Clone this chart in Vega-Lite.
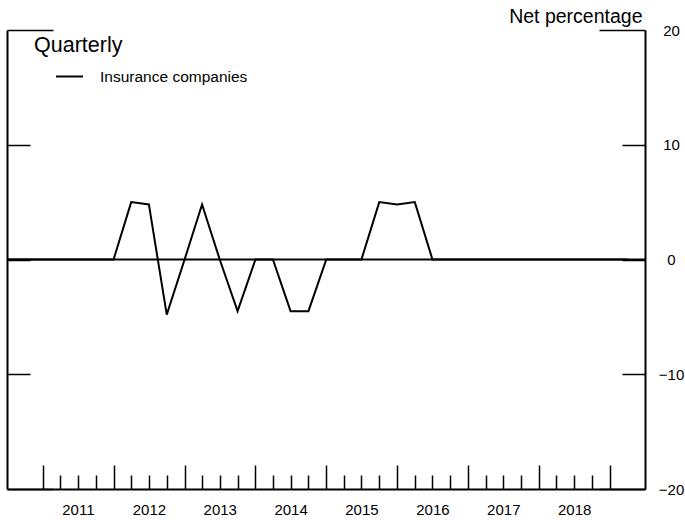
{
  "$schema": "https://vega.github.io/schema/vega-lite/v6.json",
  "width": 638,
  "height": 459,
  "autosize": {"type": "none"},
  "padding": {"left": 7, "top": 30, "right": 40, "bottom": 31},
  "config": {
    "view": {"stroke": null},
    "font": "Liberation Sans",
    "axis": {"grid": false, "domainColor": "black", "tickColor": "black", "labelColor": "black", "titleColor": "black"},
    "legend": {"labelColor": "black", "titleColor": "black"}
  },
  "layer": [
    {
      "data": {"values": [{}]},
      "mark": {"type": "rule", "stroke": "black", "strokeWidth": 2},
      "encoding": {
        "y": {
          "datum": 0,
          "type": "quantitative",
          "scale": {"domain": [-20, 20], "nice": false, "zero": false},
          "axis": {
            "orient": "left",
            "title": null,
            "labels": false,
            "values": [-20, -10, 0, 10, 20],
            "tickSize": {"condition": {"test": "abs(datum.value) == 20", "value": -46}, "value": -23},
            "tickWidth": 1.5,
            "domainWidth": 2
          }
        }
      }
    },
    {
      "data": {
        "values": [
          {"date": "2010-07-01", "series": "Insurance companies", "value": 0},
          {"date": "2010-10-01", "series": "Insurance companies", "value": 0},
          {"date": "2011-01-01", "series": "Insurance companies", "value": 0},
          {"date": "2011-04-01", "series": "Insurance companies", "value": 0},
          {"date": "2011-07-01", "series": "Insurance companies", "value": 0},
          {"date": "2011-10-01", "series": "Insurance companies", "value": 0},
          {"date": "2012-01-01", "series": "Insurance companies", "value": 0},
          {"date": "2012-04-01", "series": "Insurance companies", "value": 5.0},
          {"date": "2012-07-01", "series": "Insurance companies", "value": 4.8},
          {"date": "2012-10-01", "series": "Insurance companies", "value": -4.8},
          {"date": "2013-01-01", "series": "Insurance companies", "value": 0},
          {"date": "2013-04-01", "series": "Insurance companies", "value": 4.8},
          {"date": "2013-07-01", "series": "Insurance companies", "value": 0},
          {"date": "2013-10-01", "series": "Insurance companies", "value": -4.5},
          {"date": "2014-01-01", "series": "Insurance companies", "value": 0},
          {"date": "2014-04-01", "series": "Insurance companies", "value": 0},
          {"date": "2014-07-01", "series": "Insurance companies", "value": -4.5},
          {"date": "2014-10-01", "series": "Insurance companies", "value": -4.5},
          {"date": "2015-01-01", "series": "Insurance companies", "value": 0},
          {"date": "2015-04-01", "series": "Insurance companies", "value": 0},
          {"date": "2015-07-01", "series": "Insurance companies", "value": 0},
          {"date": "2015-10-01", "series": "Insurance companies", "value": 5.0},
          {"date": "2016-01-01", "series": "Insurance companies", "value": 4.8},
          {"date": "2016-04-01", "series": "Insurance companies", "value": 5.0},
          {"date": "2016-07-01", "series": "Insurance companies", "value": 0},
          {"date": "2016-10-01", "series": "Insurance companies", "value": 0},
          {"date": "2017-01-01", "series": "Insurance companies", "value": 0},
          {"date": "2017-04-01", "series": "Insurance companies", "value": 0},
          {"date": "2017-07-01", "series": "Insurance companies", "value": 0},
          {"date": "2017-10-01", "series": "Insurance companies", "value": 0},
          {"date": "2018-01-01", "series": "Insurance companies", "value": 0},
          {"date": "2018-04-01", "series": "Insurance companies", "value": 0},
          {"date": "2018-07-01", "series": "Insurance companies", "value": 0},
          {"date": "2018-10-01", "series": "Insurance companies", "value": 0},
          {"date": "2019-01-01", "series": "Insurance companies", "value": 0},
          {"date": "2019-04-01", "series": "Insurance companies", "value": 0}
        ]
      },
      "mark": {"type": "line", "strokeWidth": 2},
      "encoding": {
        "x": {
          "field": "date",
          "type": "temporal",
          "scale": {
            "type": "utc",
            "domain": [{"year": 2010, "month": 7, "date": 1, "utc": true}, {"year": 2019, "month": 7, "date": 1, "utc": true}]
          },
          "axis": {
            "title": null,
            "values": [
              {"year": 2011, "month": 1, "date": 1, "utc": true}, {"year": 2011, "month": 4, "date": 1, "utc": true}, {"year": 2011, "month": 7, "date": 1, "utc": true}, {"year": 2011, "month": 10, "date": 1, "utc": true},
              {"year": 2012, "month": 1, "date": 1, "utc": true}, {"year": 2012, "month": 4, "date": 1, "utc": true}, {"year": 2012, "month": 7, "date": 1, "utc": true}, {"year": 2012, "month": 10, "date": 1, "utc": true},
              {"year": 2013, "month": 1, "date": 1, "utc": true}, {"year": 2013, "month": 4, "date": 1, "utc": true}, {"year": 2013, "month": 7, "date": 1, "utc": true}, {"year": 2013, "month": 10, "date": 1, "utc": true},
              {"year": 2014, "month": 1, "date": 1, "utc": true}, {"year": 2014, "month": 4, "date": 1, "utc": true}, {"year": 2014, "month": 7, "date": 1, "utc": true}, {"year": 2014, "month": 10, "date": 1, "utc": true},
              {"year": 2015, "month": 1, "date": 1, "utc": true}, {"year": 2015, "month": 4, "date": 1, "utc": true}, {"year": 2015, "month": 7, "date": 1, "utc": true}, {"year": 2015, "month": 10, "date": 1, "utc": true},
              {"year": 2016, "month": 1, "date": 1, "utc": true}, {"year": 2016, "month": 4, "date": 1, "utc": true}, {"year": 2016, "month": 7, "date": 1, "utc": true}, {"year": 2016, "month": 10, "date": 1, "utc": true},
              {"year": 2017, "month": 1, "date": 1, "utc": true}, {"year": 2017, "month": 4, "date": 1, "utc": true}, {"year": 2017, "month": 7, "date": 1, "utc": true}, {"year": 2017, "month": 10, "date": 1, "utc": true},
              {"year": 2018, "month": 1, "date": 1, "utc": true}, {"year": 2018, "month": 4, "date": 1, "utc": true}, {"year": 2018, "month": 7, "date": 1, "utc": true}, {"year": 2018, "month": 10, "date": 1, "utc": true},
              {"year": 2019, "month": 1, "date": 1, "utc": true}
            ],
            "labelExpr": "utcmonth(datum.value) == 6 ? utcFormat(datum.value, '%Y') : ''",
            "tickSize": {"condition": {"test": "utcmonth(datum.value) == 0", "value": -24}, "value": -14},
            "tickWidth": 1.5,
            "domainWidth": 2,
            "labelFontSize": 15,
            "labelPadding": 27,
            "labelOverlap": false,
            "labelFlush": false
          }
        },
        "y": {
          "field": "value",
          "type": "quantitative",
          "scale": {"domain": [-20, 20], "nice": false, "zero": false},
          "axis": {
            "orient": "right",
            "title": "Net percentage",
            "titleAngle": 0,
            "titleAlign": "right",
            "titleBaseline": "alphabetic",
            "titleX": -3,
            "titleY": -8,
            "titleFontSize": 19.5,
            "titleFontWeight": "normal",
            "values": [-20, -10, 0, 10, 20],
            "format": "d",
            "tickSize": {"condition": {"test": "abs(datum.value) == 20", "value": -46}, "value": -23},
            "tickWidth": 1.5,
            "domainWidth": 2,
            "labelAlign": "center",
            "labelBaseline": "middle",
            "labelPadding": {"condition": {"test": "abs(datum.value) == 20", "value": 72}, "value": 49},
            "labelFontSize": 15
          }
        },
        "color": {
          "field": "series",
          "type": "nominal",
          "scale": {"range": ["black"]},
          "legend": {
            "title": "Quarterly",
            "orient": "none",
            "legendX": 27,
            "legendY": 5,
            "padding": 0,
            "titleFontSize": 21.5,
            "titleFontWeight": "normal",
            "titlePadding": 5.5,
            "labelFontSize": 15.5,
            "symbolType": "stroke",
            "symbolSize": 729,
            "symbolStrokeWidth": 2,
            "symbolOffset": 21,
            "labelOffset": 16
          }
        }
      }
    }
  ],
  "resolve": {"axis": {"y": "independent"}}
}
